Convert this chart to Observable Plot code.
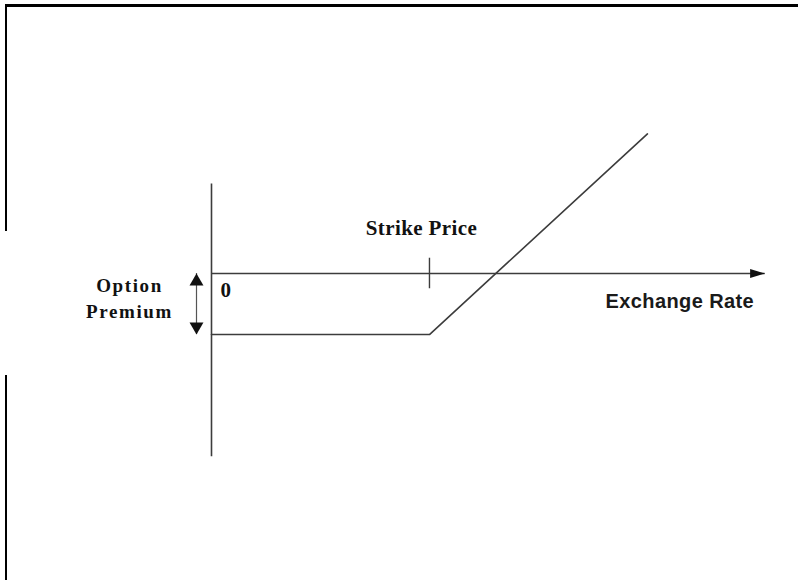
<!DOCTYPE html>
<html>
<head>
<meta charset="utf-8">
<script src="https://cdn.jsdelivr.net/npm/d3@7"></script>
<script src="https://cdn.jsdelivr.net/npm/@observablehq/plot@0.6"></script>
<style>
  html, body { margin: 0; padding: 0; background: #fff; }
  #wrap { position: relative; width: 798px; height: 580px; overflow: hidden; }
  .bd { position: absolute; background: #000; }
  #chart svg { display: block; }
</style>
</head>
<body>
<div id="wrap">
  <div id="chart"></div>
  <div class="bd" style="left:5px;top:4px;width:793px;height:3px"></div>
  <div class="bd" style="left:5px;top:4px;width:2px;height:227px"></div>
  <div class="bd" style="left:5px;top:375px;width:2px;height:205px"></div>
</div>
<script>
// Conceptual units: exchange rate on x (origin 0, strike 100), profit on y
const strike = 100;
const premium = -28;
const payoffX = [0, 100, 200];
const payoffY = [-28, -28, 64];
const xAxisExtent = [0, 254];
const yAxisExtent = [-84, 41];
const strikeTick = [-7, 7];
const labels = {
  strike: "Strike Price",
  zero: "0",
  xTitle: "Exchange Rate",
  premium: "Option\nPremium"
};

const payoff = payoffX.map((x, i) => ({x, y: payoffY[i]}));

function headSymbol(ratio) {
  return {
    draw(context, size) {
      const L = Math.sqrt(size / Math.PI);
      const W = L * ratio;
      context.moveTo(0, 0);
      context.lineTo(W, L);
      context.lineTo(-W, L);
      context.closePath();
    }
  };
}
const narrowHead = headSymbol(0.3);
const wideHead = headSymbol(0.58);

const lineColor = "#3c3c3c";
const textColor = "#111";

const chart = Plot.plot({
  width: 798,
  height: 580,
  margin: 0,
  x: {domain: [-96.8, 269.3], axis: null},
  y: {domain: [-140.8, 125.2], axis: null},
  marks: [
    // vertical axis
    Plot.ruleX([0], {y1: yAxisExtent[0], y2: yAxisExtent[1], stroke: lineColor, strokeWidth: 1.6}),
    // horizontal axis
    Plot.ruleY([0], {x1: xAxisExtent[0], x2: xAxisExtent[1], stroke: lineColor, strokeWidth: 1.6}),
    Plot.dot([xAxisExtent[1]], {x: d => d, y: 0, symbol: narrowHead, r: 15, rotate: 90, fill: "#111", stroke: null}),
    // strike tick
    Plot.ruleX([strike], {y1: strikeTick[0], y2: strikeTick[1], stroke: lineColor, strokeWidth: 1.4}),
    // payoff line
    Plot.line(payoff, {x: "x", y: "y", stroke: lineColor, strokeWidth: 1.6}),
    // premium double arrow
    Plot.ruleX([0], {y1: 0, y2: premium, dx: -15, stroke: "#555", strokeWidth: 1.2}),
    Plot.dot([0], {x: 0, y: 0, dx: -15, symbol: wideHead, r: 12, rotate: 0, fill: "#111", stroke: null}),
    Plot.dot([premium], {x: 0, y: d => d, dx: -15, symbol: wideHead, r: 12, rotate: 180, fill: "#111", stroke: null}),
    // labels
    Plot.text([labels.strike], {x: strike, y: 0, text: d => d, dx: -8, dy: -38, lineAnchor: "bottom",
      fontFamily: "Liberation Serif", fontWeight: "bold", fontSize: 21, fill: textColor}),
    Plot.text([labels.zero], {x: 0, y: 0, text: d => d, dx: 9, dy: 24, textAnchor: "start", lineAnchor: "bottom",
      fontFamily: "Liberation Serif", fontWeight: "bold", fontSize: 21, fill: textColor}),
    Plot.text([labels.xTitle], {x: xAxisExtent[1], y: 0, text: d => d, dx: -11, dy: 35, textAnchor: "end", lineAnchor: "bottom",
      fontFamily: "Liberation Sans", fontWeight: "bold", fontSize: 20, fill: "#1a1a1a"}),
    Plot.text([labels.premium], {x: 0, y: premium / 2, text: d => d, dx: -82, dy: -7, lineHeight: 1.368,
      fontFamily: "Liberation Serif", fontWeight: "bold", fontSize: 19, fill: textColor}),
  ]
});
chart.querySelectorAll("text").forEach(t => {
  const s = t.textContent;
  if (s.startsWith("Option")) t.setAttribute("letter-spacing", "1.6");
  if (s === "Strike Price") t.setAttribute("letter-spacing", "0.4");
  if (s === "Exchange Rate") t.setAttribute("letter-spacing", "0.4");
});
document.getElementById("chart").appendChild(chart);
</script>
</body>
</html>
